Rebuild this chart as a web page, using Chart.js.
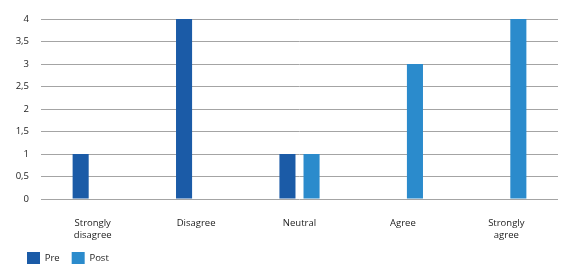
<!DOCTYPE html>
<html>
<head>
<meta charset="utf-8">
<script src="https://cdn.jsdelivr.net/npm/chart.js@4"></script>
<style>
  html, body { margin: 0; padding: 0; background: #fff; }
  #wrap { width: 563px; height: 267px; }
</style>
</head>
<body>
<div id="wrap"><canvas id="myChart" width="563" height="267"></canvas></div>
<script>
const categories = [['Strongly', 'disagree'], 'Disagree', 'Neutral', 'Agree', ['Strongly', 'agree']];
const preValues = [1, 4, 1, 0, 0];
const postValues = [0, 0, 1, 3, 4];
const yTicks = [0, 0.5, 1, 1.5, 2, 2.5, 3, 3.5, 4];

const font = { family: 'Open Sans', size: 9.5, lineHeight: 1.25 };

const datasets = [
  {
    label: 'Pre',
    data: preValues,
    backgroundColor: '#1b5ba7',
    borderWidth: 0,
    barPercentage: 0.667,
    categoryPercentage: 0.466
  },
  {
    label: 'Post',
    data: postValues,
    backgroundColor: '#2b8bcc',
    borderWidth: 0,
    barPercentage: 0.667,
    categoryPercentage: 0.466
  }
];

new Chart(document.getElementById('myChart'), {
  type: 'bar',
  data: { labels: categories, datasets: datasets },
  options: {
    responsive: false,
    animation: false,
    layout: { padding: { left: 15, right: 5, top: 19, bottom: -7 } },
    plugins: {
      tooltip: { enabled: false },
      legend: {
        position: 'bottom',
        align: 'start',
        labels: {
          boxWidth: 13,
          boxHeight: 12,
          padding: 12,
          color: '#222',
          font: font
        }
      }
    },
    scales: {
      x: {
        grid: { display: false, drawTicks: false },
        border: { display: false },
        ticks: { color: '#222', font: font, padding: 18, maxRotation: 0, autoSkip: false },
        afterFit: (scale) => { scale.height = 41; }
      },
      y: {
        min: 0,
        max: 4,
        afterBuildTicks: (scale) => { scale.ticks = yTicks.map(v => ({ value: v })); },
        grid: { color: '#a4a4a4', lineWidth: 1, drawTicks: false },
        border: { display: false },
        ticks: {
          color: '#222',
          font: font,
          padding: 12,
          callback: (v) => String(v).replace('.', ',')
        },
        afterFit: (scale) => { scale.width = 26; }
      }
    }
  }
});
</script>
</body>
</html>
